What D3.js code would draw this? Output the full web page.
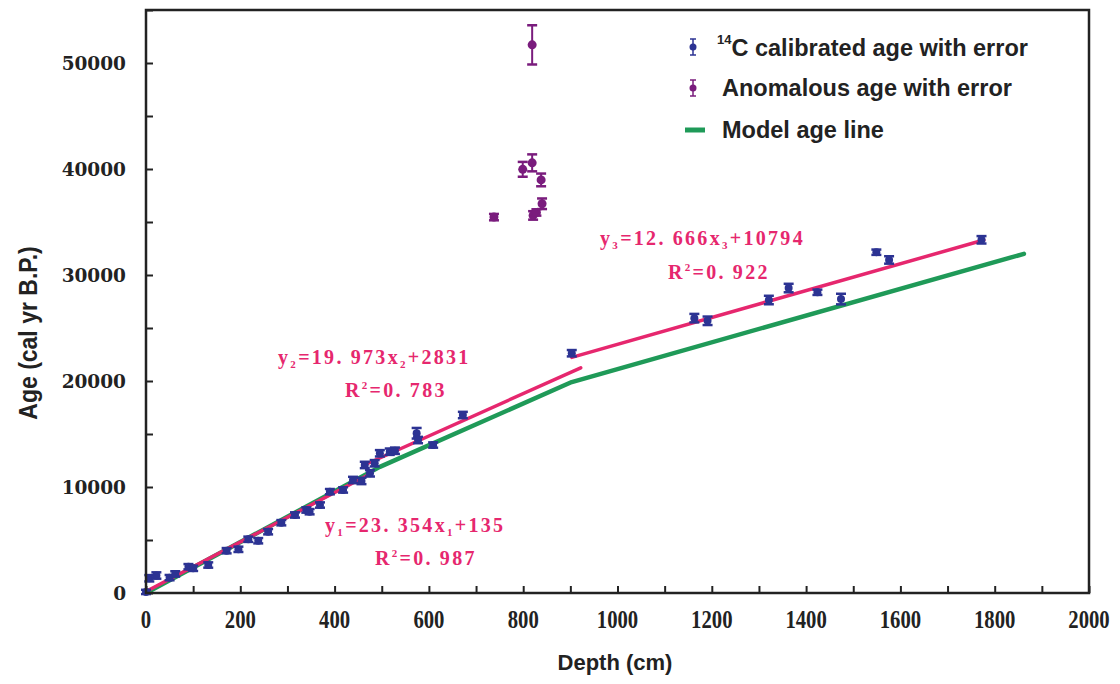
<!DOCTYPE html>
<html>
<head>
<meta charset="utf-8">
<script src="https://cdn.jsdelivr.net/npm/d3@7"></script>
<style>
  html, body { margin: 0; padding: 0; background: #fff; }
  svg { display: block; }
</style>
</head>
<body>
<svg id="chart" width="1120" height="684"></svg>
<script>
// Radiocarbon-calibrated ages (cal yr B.P.) against core depth (cm)
const calDepth = [0, 7, 22, 50, 62, 90, 100, 132, 171, 196, 217, 238, 259, 287, 316, 340, 347, 369, 390, 418,
  439, 457, 464, 475, 485, 496, 517, 528, 574, 577, 609, 672, 903, 1163, 1191, 1321, 1363, 1424, 1474, 1549, 1576, 1772];
const calAge = [100, 1390, 1650, 1450, 1800, 2480, 2330, 2640, 3990, 4120, 5070, 4930, 5780, 6630, 7360, 7830, 7670, 8300, 9560, 9720,
  10660, 10570, 12080, 11290, 12240, 13180, 13330, 13420, 15070, 14430, 13960, 16790, 22620, 25930, 25680, 27640, 28770, 28370, 27730, 32150, 31420, 33320];
const calErr = [200, 300, 300, 250, 250, 250, 250, 250, 250, 250, 250, 250, 250, 250, 250, 250, 250, 250, 250, 250,
  300, 300, 300, 300, 300, 300, 300, 300, 500, 300, 250, 300, 300, 400, 400, 400, 400, 250, 500, 250, 350, 350];

// Ages rejected as anomalous
const anomDepth = [738, 799, 819, 819, 821, 828, 838, 840];
const anomAge = [35460, 39970, 40580, 51710, 35620, 35900, 38970, 36720];
const anomErr = [300, 700, 800, 1850, 400, 300, 600, 500];

// Age-depth model (piecewise linear)
const modelDepth = [0, 496, 903, 1862];
const modelAge = [0, 11900, 19900, 32000];

// Linear regressions of each unit
const fitSlope = [23.354, 19.973, 12.666];
const fitIntercept = [135, 2831, 10794];
const fitFrom = [0, 470, 903];
const fitTo = [470, 922, 1777];
const fitLabel = [
  { y: "y", sub: "1", a: "23", b: "354", c: "135", r2: "0", r2b: "987" },
  { y: "y", sub: "2", a: "19", b: "973", c: "2831", r2: "0", r2b: "783" },
  { y: "y", sub: "3", a: "12", b: "666", c: "10794", r2: "0", r2b: "922" }
];
const fitLabelAt = [[325, 532, 375, 565], [278, 364, 345, 397], [600, 245, 668, 279]];

const xTicks = [0, 200, 400, 600, 800, 1000, 1200, 1400, 1600, 1800, 2000];
const yTicks = [0, 10000, 20000, 30000, 40000, 50000];

const legendItems = ["C calibrated age with error", "Anomalous age with error", "Model age line"];

const BLUE = "#2c3393", PURPLE = "#7a1c7d", PINK = "#e6276e", GREEN = "#1f9a58";

const svg = d3.select("#chart");
const L = 146, R = 1089, T = 10, B = 593;

const x = d3.scaleLinear().domain([0, 2000]).range([L, R]);
const y = d3.scaleLinear().domain([0, 55000]).range([B, T]);

// Axes: ticks point inward
const xAxis = d3.axisBottom(x).tickValues(d3.range(0, 2001, 100)).tickSize(-7).tickFormat("");
const yAxis = d3.axisLeft(y).tickValues(d3.range(0, 55001, 5000)).tickSize(-7).tickFormat("");

svg.append("g").attr("transform", `translate(0,${B})`).call(xAxis)
  .call(g => g.select(".domain").remove())
  .selectAll("line").attr("stroke", "#222").attr("stroke-width", 2);
svg.append("g").attr("transform", `translate(${L},0)`).call(yAxis)
  .call(g => g.select(".domain").remove())
  .selectAll("line").attr("stroke", "#222").attr("stroke-width", 2);

// Tick labels
svg.append("g").selectAll("text").data(xTicks).join("text")
  .attr("transform", d => `translate(${x(d)},628) scale(0.9,1.1)`)
  .attr("text-anchor", "middle")
  .attr("font-family", "'Liberation Serif', serif").attr("font-weight", "bold")
  .attr("font-size", 23).attr("fill", "#222")
  .text(d => d);

svg.append("g").selectAll("text").data(yTicks).join("text")
  .attr("x", 126).attr("y", d => y(d)).attr("dy", "0.36em")
  .attr("text-anchor", "end")
  .attr("font-family", "'DejaVu Serif', serif").attr("font-weight", "bold")
  .attr("font-size", 18.5).attr("fill", "#222")
  .text(d => d);

// Axis titles
svg.append("text")
  .attr("transform", "translate(37,333) rotate(-90) scale(0.92,1)")
  .attr("text-anchor", "middle")
  .attr("font-family", "'Liberation Sans', Arial, sans-serif").attr("font-weight", "bold")
  .attr("font-size", 25).attr("fill", "#222")
  .text("Age (cal yr B.P.)");
svg.append("text")
  .attr("x", 615).attr("y", 670)
  .attr("text-anchor", "middle")
  .attr("font-family", "'Liberation Sans', Arial, sans-serif").attr("font-weight", "bold")
  .attr("font-size", 22).attr("fill", "#222")
  .text("Depth (cm)");

// Age-depth model
const line = d3.line().x(d => x(d[0])).y(d => y(d[1]));
svg.append("path")
  .datum(d3.zip(modelDepth, modelAge))
  .attr("d", line)
  .attr("fill", "none").attr("stroke", GREEN).attr("stroke-width", 4.5)
  .attr("stroke-linecap", "round").attr("stroke-linejoin", "round");

// Regression lines
fitSlope.forEach((s, i) => {
  const pts = [fitFrom[i], fitTo[i]].map(d => [d, s * d + fitIntercept[i]]);
  svg.append("path").datum(pts).attr("d", line)
    .attr("fill", "none").attr("stroke", PINK).attr("stroke-width", 3.5)
    .attr("stroke-linecap", "round");
});

// Points with error bars
function errorPoints(depth, age, err, color, r) {
  const g = svg.append("g");
  const rows = depth.map((d, i) => ({ d, a: age[i], e: err[i] }));
  const pt = g.selectAll("g").data(rows).join("g")
    .attr("stroke", color).attr("fill", color);
  pt.append("line")
    .attr("x1", d => x(d.d)).attr("x2", d => x(d.d))
    .attr("y1", d => y(d.a - d.e)).attr("y2", d => y(d.a + d.e))
    .attr("stroke-width", 2);
  [-1, 1].forEach(sg => {
    pt.append("line")
      .attr("x1", d => x(d.d) - 5).attr("x2", d => x(d.d) + 5)
      .attr("y1", d => y(d.a + sg * d.e)).attr("y2", d => y(d.a + sg * d.e))
      .attr("stroke-width", 2.5);
  });
  pt.append("circle")
    .attr("cx", d => x(d.d)).attr("cy", d => y(d.a)).attr("r", r)
    .attr("stroke", "none");
}
errorPoints(calDepth, calAge, calErr, BLUE, 4);
errorPoints(anomDepth, anomAge, anomErr, PURPLE, 4.5);

// Frame
svg.append("rect")
  .attr("x", L).attr("y", T).attr("width", R - L).attr("height", B - T)
  .attr("fill", "none").attr("stroke", "#222").attr("stroke-width", 2.5);

// Regression equations
const eqFont = "'Liberation Serif', 'DejaVu Serif', serif";
fitLabel.forEach((f, i) => {
  const p = fitLabelAt[i];
  const t = svg.append("text").attr("x", p[0]).attr("y", p[1])
    .attr("font-family", eqFont).attr("font-weight", "bold").attr("font-size", 20)
    .attr("letter-spacing", 2.3).attr("fill", PINK);
  t.append("tspan").text(f.y);
  t.append("tspan").attr("font-size", 11).attr("dy", 4).text(f.sub);
  t.append("tspan").attr("dy", -4).text("=" + f.a + ".");
  t.append("tspan").attr("dx", 7).text(f.b + "x");
  t.append("tspan").attr("font-size", 11).attr("dy", 4).text(f.sub);
  t.append("tspan").attr("dy", -4).text("+" + f.c);

  const r = svg.append("text").attr("x", p[2]).attr("y", p[3])
    .attr("font-family", eqFont).attr("font-weight", "bold").attr("font-size", 20)
    .attr("letter-spacing", 2.3).attr("fill", PINK);
  r.append("tspan").text("R");
  r.append("tspan").attr("font-size", 11).attr("dy", -8).text("2");
  r.append("tspan").attr("dy", 8).text("=" + f.r2 + ".");
  r.append("tspan").attr("dx", 7).text(f.r2b);
});

// Legend
const lg = svg.append("g").attr("font-family", "'Liberation Sans', Arial, sans-serif")
  .attr("font-weight", "bold").attr("font-size", 23.5).attr("fill", "#222");
const rowY = [47, 88, 130];
[BLUE, PURPLE].forEach((c, i) => {
  const cy = rowY[i];
  lg.append("line").attr("x1", 693).attr("x2", 693).attr("y1", cy - 8).attr("y2", cy + 8)
    .attr("stroke", c).attr("stroke-width", 1.5);
  [-8, 8].forEach(o => lg.append("line").attr("x1", 690).attr("x2", 696)
    .attr("y1", cy + o).attr("y2", cy + o).attr("stroke", c).attr("stroke-width", 1.5));
  lg.append("circle").attr("cx", 693).attr("cy", cy).attr("r", 3.5).attr("fill", c);
});
lg.append("line").attr("x1", 685).attr("x2", 705).attr("y1", rowY[2]).attr("y2", rowY[2])
  .attr("stroke", GREEN).attr("stroke-width", 5);

const t0 = lg.append("text").attr("x", 717).attr("y", rowY[0]).attr("dy", "0.35em");
t0.append("tspan").attr("font-size", 13).attr("dy", "-0.25em").text("14");
t0.append("tspan").attr("dy", "0.5em").text(legendItems[0]);
lg.append("text").attr("x", 722).attr("y", rowY[1]).attr("dy", "0.35em").text(legendItems[1]);
lg.append("text").attr("x", 722).attr("y", rowY[2]).attr("dy", "0.35em").text(legendItems[2]);
</script>
</body>
</html>
